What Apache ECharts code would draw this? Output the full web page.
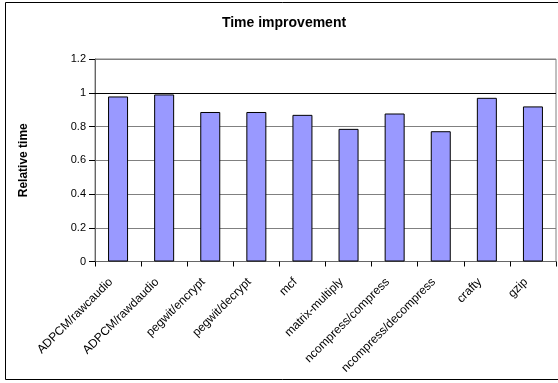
<!DOCTYPE html>
<html><head><meta charset="utf-8">
<script src="https://cdn.jsdelivr.net/npm/echarts@6/dist/echarts.min.js"></script>
<style>html,body{margin:0;padding:0;background:#fff}#c{width:558px;height:383px}</style>
</head><body><div id="c"></div>
<script>
const categories = ['ADPCM/rawcaudio','ADPCM/rawdaudio','pegwit/encrypt','pegwit/decrypt','mcf','matrix-multiply','ncompress/compress','ncompress/decompress','crafty','gzip'];
const relativeTime = [0.978, 0.99, 0.886, 0.886, 0.869, 0.786, 0.877, 0.772, 0.97, 0.919];
const yTicks = [0, 0.2, 0.4, 0.6, 0.8, 1, 1.2];

const chart = echarts.init(document.getElementById('c'), null, {renderer: 'canvas'});
const font = 'Liberation Sans, Arial, sans-serif';
chart.setOption({
  animation: false,
  backgroundColor: '#fff',
  title: {
    text: 'Time improvement',
    left: 284, top: 16, textAlign: 'center', padding: 0,
    textStyle: {fontFamily: font, fontSize: 14, fontWeight: 'bold', color: '#000'}
  },
  graphic: [{
    type: 'rect', shape: {x: 5.5, y: 2.5, width: 560, height: 377},
    style: {fill: null, stroke: '#000', lineWidth: 1}, silent: true, z: 100
  }],
  grid: {left: 95, right: 2, top: 59, bottom: 121.5, show: true, borderColor: '#808080', borderWidth: 1, backgroundColor: '#fff'},
  xAxis: {
    type: 'category', data: categories,
    axisLine: {lineStyle: {color: '#666', width: 1}},
    axisTick: {show: true, alignWithLabel: false, length: 5, lineStyle: {color: '#000'}},
    axisLabel: {rotate: 45, interval: 0, margin: 11.5, padding: [0, 10, 0, 0], fontFamily: font, fontSize: 12, color: '#000'}
  },
  yAxis: {
    type: 'value', min: 0, max: 1.2, interval: 0.2,
    name: 'Relative time', nameLocation: 'middle', nameGap: 65, nameRotate: 90,
    nameTextStyle: {fontFamily: font, fontSize: 12, fontWeight: 'bold', color: '#000'},
    axisLine: {show: true, lineStyle: {color: '#666', width: 1}},
    axisTick: {show: true, inside: false, length: 6, lineStyle: {color: '#000'}},
    axisLabel: {fontFamily: font, fontSize: 11, color: '#000', margin: 9,
      formatter: v => { const t = yTicks.find(x => Math.abs(x - v) < 1e-9); return t === undefined ? '' : String(t); }},
    splitLine: {show: true, lineStyle: {color: '#808080', width: 1}}
  },
  series: [{
    type: 'bar', data: relativeTime, barWidth: 20,
    itemStyle: {color: '#9999FF', borderColor: '#000', borderWidth: 1},
    markLine: {
      silent: true, symbol: 'none', label: {show: false},
      lineStyle: {color: '#000', type: 'solid', width: 1},
      data: [{yAxis: 1}], z: 1
    },
    z: 3
  }]
});
</script></body></html>
